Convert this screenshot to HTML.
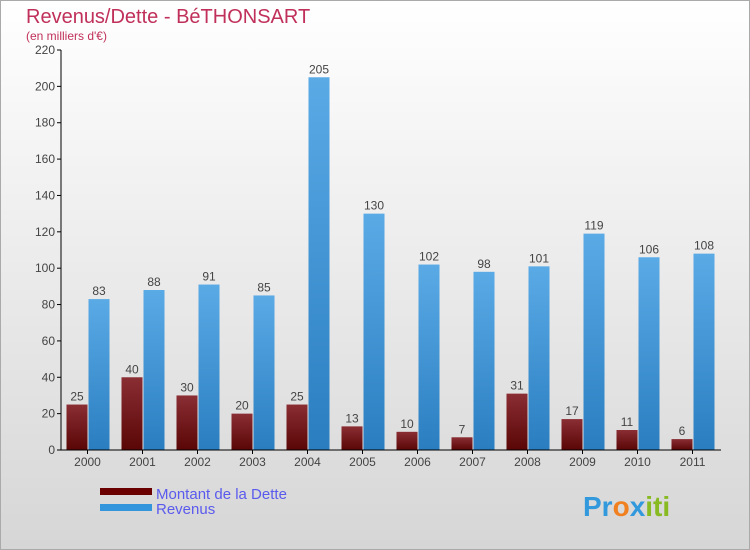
<!DOCTYPE html>
<html><head><meta charset="utf-8"><style>
body{margin:0;width:750px;height:550px;overflow:hidden;font-family:"Liberation Sans",sans-serif}
#c{position:absolute;left:0;top:0;width:748px;height:548px;border:1px solid #aaa;background:linear-gradient(#ffffff,#d6d6d6)}
</style></head><body>
<div id="c">
<svg id="s" width="750" height="550" style="position:absolute;left:-1px;top:-1px">
<defs>
<linearGradient id="gd" x1="0" y1="0" x2="0" y2="1"><stop offset="0" stop-color="#8a2e34"/><stop offset="1" stop-color="#5a0606"/></linearGradient>
<linearGradient id="gr" x1="0" y1="0" x2="0" y2="1"><stop offset="0" stop-color="#5aaae6"/><stop offset="1" stop-color="#2a7ec0"/></linearGradient>
</defs>
<text x="26" y="23" font-size="20" fill="#c0305a">Revenus/Dette - BéTHONSART</text>
<text x="26" y="40" font-size="12" fill="#c0305a">(en milliers d'€)</text>
<g id="g"></g>
<rect x="100" y="488" width="52" height="7" fill="#6a0000"/>
<text x="156" y="499" font-size="15" fill="#5a5aee">Montant de la Dette</text>
<rect x="100" y="504" width="52" height="7" fill="#3396dc"/>
<text x="156" y="514" font-size="15" fill="#5a5aee">Revenus</text>
<text x="583" y="516" font-size="28" font-weight="bold"><tspan fill="#3399dd">Pr</tspan><tspan fill="#f08020">o</tspan><tspan fill="#3399dd">x</tspan><tspan fill="#88bb22">iti</tspan></text>
</svg></div>
<script>
const years=["2000","2001","2002","2003","2004","2005","2006","2007","2008","2009","2010","2011"];
const dette=[25,40,30,20,25,13,10,7,31,17,11,6];
const revenus=[83,88,91,85,205,130,102,98,101,119,106,108];
const yTicks=[0,20,40,60,80,100,120,140,160,180,200,220];
const NS="http://www.w3.org/2000/svg",g=document.getElementById('g');
const y=v=>450-v*400/220, xc=i=>60+55*(i+0.5);
function mk(t,a,txt){const e=document.createElementNS(NS,t);for(const k in a)e.setAttribute(k,a[k]);if(txt!=null)e.textContent=txt;g.appendChild(e);return e;}
yTicks.forEach(v=>{const e=mk('line',{x1:57,x2:61,y1:y(v),y2:y(v),stroke:'#000'});


const t=mk('text',{x:55,y:y(v)+4,'text-anchor':'end','font-size':12,fill:'#444'},v);

});
years.forEach((yr,i)=>{const c=xc(i);
const d=mk('rect',{x:c-21,y:y(dette[i]),width:21,height:450-y(dette[i]),fill:'url(#gd)'});


const r=mk('rect',{x:c+1,y:y(revenus[i]),width:21,height:450-y(revenus[i]),fill:'url(#gr)'});


const l1=mk('text',{x:c-10.5,y:y(dette[i])-4,'text-anchor':'middle','font-size':12,fill:'#444'},dette[i]);


const l2=mk('text',{x:c+11.5,y:y(revenus[i])-4,'text-anchor':'middle','font-size':12,fill:'#444'},revenus[i]);


const tk=mk('line',{x1:c,x2:c,y1:450,y2:454,stroke:'#000'});


const xl=mk('text',{x:c,y:466,'text-anchor':'middle','font-size':12,fill:'#444'},yr);

});
const ya=mk('line',{x1:61,x2:61,y1:50,y2:450,stroke:'#000'});


const xa=mk('line',{x1:61,x2:721,y1:450,y2:450,stroke:'#000'});


</script>
</body></html>
